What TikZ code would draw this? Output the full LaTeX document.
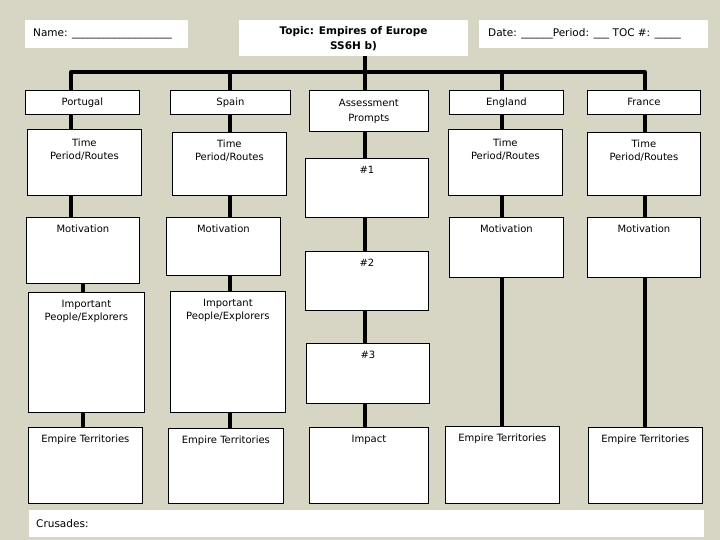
\documentclass[tikz,border=0pt]{standalone}
\usepackage{fontspec}
\setmainfont{DejaVu Sans}
\definecolor{bgcol}{RGB}{215,214,197}
\tikzset{
  box/.style={draw=black, line width=0.8pt, fill=white, inner sep=0pt, anchor=north west, align=center},
  plainbox/.style={fill=white, draw=none, inner sep=0pt, anchor=north west},
  conn/.style={line width=4pt, black},
  lbl/.style={anchor=north, inner sep=0pt, align=center},
  hdr/.style={anchor=west, inner sep=0pt, font=\fontsize{10.5}{13}\selectfont},
}
\newcommand\bxo[7]{%
  \node[box,minimum width=#4pt,minimum height=#5pt] (#1) at (#2,#3) {};
  \node[lbl] (#1-t) at ([yshift=-#6pt]#1.north) {#7};}
\newcommand\bx[6]{\bxo{#1}{#2}{#3}{#4}{#5}{8}{#6}}
\begin{document}
\begin{tikzpicture}[x=1pt,y=-1pt,font=\fontsize{10}{13}\selectfont]
\fill[bgcol] (0,0) rectangle (720,540);
\useasboundingbox (0,0) rectangle (720,540);

% header boxes
\node[plainbox,minimum width=163pt,minimum height=28pt] (namebox) at (25,20) {};
\node[hdr] (name-t) at (33,34) {Name: \_\_\_\_\_\_\_\_\_\_\_\_\_\_\_\_\_\_\_};
\node[plainbox,minimum width=229pt,minimum height=36pt] (topic) at (239,20) {};
\node[inner sep=0pt,align=center,font=\bfseries\fontsize{10.5}{15}\selectfont] (topic-t) at (353.5,39) {Topic: Empires of Europe\\SS6H b)};
\node[plainbox,minimum width=229pt,minimum height=28pt] (datebox) at (479,20) {};
\node[hdr] (date-t) at (488,34) {Date: \_\_\_\_\_\_Period: \_\_\_ TOC \#: \_\_\_\_\_};
\node[plainbox,minimum width=675pt,minimum height=27pt] (crusades) at (29,510) {};
\node[hdr] (crusades-t) at (36,524) {Crusades:};

% row 1
\node[box,minimum width=114pt,minimum height=24pt] (portugal) at (25,90) {Portugal};
\node[box,minimum width=120pt,minimum height=24pt] (spain) at (170,90) {Spain};
\node[box,minimum width=119pt,minimum height=41pt,font=\fontsize{10}{15}\selectfont] (assess) at (309,90) {Assessment\\Prompts};
\node[box,minimum width=114pt,minimum height=24pt] (england) at (449,90) {England};
\node[box,minimum width=113pt,minimum height=24pt] (france) at (587,90) {France};

% row 2
\bxo{timeP}{27}{129}{114}{66}{10}{Time\\Period/Routes}
\bxo{timeS}{172}{132}{114}{63}{8}{Time\\Period/Routes}
\bx{q1}{305}{158}{123}{59}{\#1}
\bxo{timeE}{448}{129}{114}{66}{10}{Time\\Period/Routes}
\bxo{timeF}{587}{132}{113}{63}{8}{Time\\Period/Routes}

% row 3
\bx{motP}{26}{217}{113}{66}{Motivation}
\bx{motS}{166}{217}{114}{58}{Motivation}
\bx{q2}{305}{251}{123}{59}{\#2}
\bx{motE}{449}{217}{114}{60}{Motivation}
\bx{motF}{587}{217}{113}{60}{Motivation}

% row 4
\bx{peoP}{28}{292}{116}{120}{Important\\People/Explorers}
\bx{peoS}{170}{291}{115}{121}{Important\\People/Explorers}
\bx{q3}{306}{343}{123}{60}{\#3}

% row 5
\bx{terP}{28}{427}{114}{76}{Empire Territories}
\bx{terS}{168}{428}{115}{75}{Empire Territories}
\bx{impact}{309}{427}{119}{76}{Impact}
\bx{terE}{445}{426}{114}{77}{Empire Territories}
\bx{terF}{588}{427}{114}{76}{Empire Territories}

% connector coordinates
\coordinate (cP) at (71,72);
\coordinate (cP2) at (83,72);
\coordinate (cS) at (229.5,72);
\coordinate (hub) at (365,72);
\coordinate (cE) at (501.5,72);
\coordinate (cF) at (645,72);

% main bar
\draw[conn] (topic.south -| hub) -- (hub);
\draw[conn,line join=round] (portugal.north -| cP) -- (cP) -- (cF) -- (france.north -| cF);
\draw[conn] (cS) -- (spain.north -| cS);
\draw[conn] (hub) -- (assess.north -| hub);
\draw[conn] (cE) -- (england.north -| cE);

% Portugal column
\draw[conn] (portugal.south -| cP) -- (timeP.north -| cP);
\draw[conn] (timeP.south -| cP) -- (motP.north -| cP);
\draw[conn] (motP.south -| cP2) -- (peoP.north -| cP2);
\draw[conn] (peoP.south -| cP2) -- (terP.north -| cP2);

% Spain column
\draw[conn] (spain.south -| cS) -- (timeS.north -| cS);
\draw[conn] (timeS.south -| cS) -- (motS.north -| cS);
\draw[conn] (motS.south -| cS) -- (peoS.north -| cS);
\draw[conn] (peoS.south -| cS) -- (terS.north -| cS);

% middle column
\draw[conn] (assess.south -| hub) -- (q1.north -| hub);
\draw[conn] (q1.south -| hub) -- (q2.north -| hub);
\draw[conn] (q2.south -| hub) -- (q3.north -| hub);
\draw[conn] (q3.south -| hub) -- (impact.north -| hub);

% England column
\draw[conn] (england.south -| cE) -- (timeE.north -| cE);
\draw[conn] (timeE.south -| cE) -- (motE.north -| cE);
\draw[conn] (motE.south -| cE) -- (terE.north -| cE);

% France column
\draw[conn] (france.south -| cF) -- (timeF.north -| cF);
\draw[conn] (timeF.south -| cF) -- (motF.north -| cF);
\draw[conn] (motF.south -| cF) -- (terF.north -| cF);
\end{tikzpicture}
\end{document}
